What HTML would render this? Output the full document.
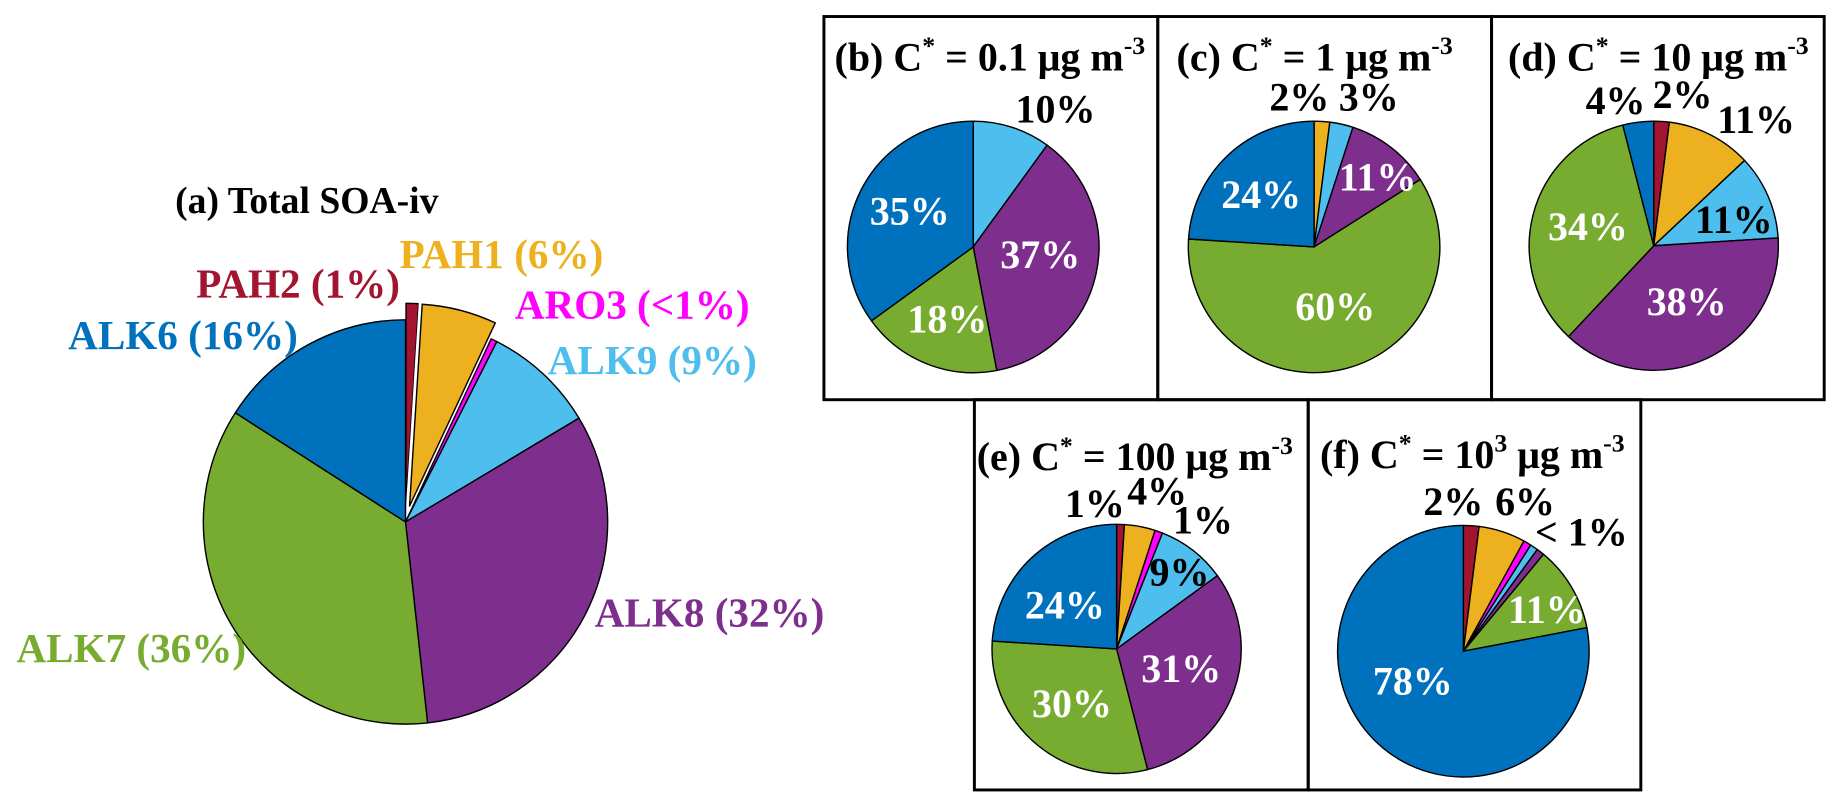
<!DOCTYPE html>
<html><head><meta charset="utf-8"><style>
html,body{margin:0;padding:0;background:#fff;}
svg{display:block;font-family:"Liberation Serif",serif;font-weight:bold;}
</style></head><body>
<svg id="chart" width="1843" height="810" viewBox="0 0 1568 689" xmlns="http://www.w3.org/2000/svg">
<g id="boxes"></g>
<g id="pies"></g>
<g id="labels"></g>
</svg>
<script>
const COLORS = {PAH2:'#a2142f',PAH1:'#edb120',ARO3:'#ff00ff',ALK9:'#4dbeee',ALK8:'#7e2f8e',ALK7:'#77ac30',ALK6:'#0072bd'};
const catsA = ['PAH2','PAH1','ARO3','ALK9','ALK8','ALK7','ALK6'];
const valsA = [1,6,0.5,9,32,36,16];
const explodeA = [1,1,0,0,0,0,0];
const catsB = ['ALK9','ALK8','ALK7','ALK6'];
const valsB = [10,37,18,35];
const catsC = ['PAH1','ALK9','ALK8','ALK7','ALK6'];
const valsC = [2,3,11,60,24];
const catsD = ['PAH2','PAH1','ALK9','ALK8','ALK7','ALK6'];
const valsD = [2,11,11,38,34,4];
const catsE = ['PAH2','PAH1','ARO3','ALK9','ALK8','ALK7','ALK6'];
const valsE = [1,4,1,9,31,30,24];
const catsF = ['PAH2','PAH1','ARO3','ALK9','ALK8','ALK7','ALK6'];
const valsF = [2,6,1,1,1,11,78];

const NS='http://www.w3.org/2000/svg';
function mk(tag,attrs,parent){const e=document.createElementNS(NS,tag);for(const k in attrs)e.setAttribute(k,attrs[k]);parent.appendChild(e);return e;}
function pt(cx,cy,r,f){const a=f*2*Math.PI;return [cx+r*Math.sin(a),cy-r*Math.cos(a)];}
function pie(name,cx,cy,r,cats,vals,explode){
  const g=document.getElementById('pies');
  const total=vals.reduce((a,b)=>a+b,0);
  let acc=0;
  cats.forEach((c,i)=>{
    const f0=acc/total, f1=(acc+vals[i])/total; acc+=vals[i];
    let ox=0,oy=0;
    if(explode&&explode[i]){const m=pt(0,0,14,(f0+f1)/2);ox=m[0];oy=m[1];}
    const p0=pt(cx+ox,cy+oy,r,f0),p1=pt(cx+ox,cy+oy,r,f1);
    const large=(f1-f0)>0.5?1:0;
    const d=`M${cx+ox},${cy+oy} L${p0[0]},${p0[1]} A${r},${r} 0 ${large} 1 ${p1[0]},${p1[1]} Z`;
    if(explode&&explode[i]){
      const w=mk('path',{d:d,fill:'none',stroke:'#fff','stroke-width':6},g);
      
      
    }
    const s=mk('path',{d:d,fill:COLORS[c],stroke:'#000','stroke-width':1.2,'stroke-linejoin':'round'},g);
    
    
  });
}
pie('pie-a',345,444,172,catsA,valsA,explodeA);
pie('pie-b',828,210,107,catsB,valsB);
pie('pie-c',1118,210,107,catsC,valsC);
pie('pie-d',1407,209,106,catsD,valsD);
pie('pie-e',950,552,106,catsE,valsE);
pie('pie-f',1245,554,107,catsF,valsF);

const bx=document.getElementById('boxes');
[[701,14,284,326,'b'],[985,14,284,326,'c'],[1269,14,283,326,'d'],[829,340,284,332,'e'],[1113,340,283,332,'f']].forEach(b=>{
  const r=mk('rect',{x:b[0],y:b[1],width:b[2],height:b[3],fill:'none',stroke:'#000','stroke-width':2.5},bx);
  
  
});
</script>
<script>
(function(){
const L=document.getElementById('labels');
function t(x,y,txt,fill,size,name){
  const e=document.createElementNS('http://www.w3.org/2000/svg','text');
  e.setAttribute('x',x);e.setAttribute('y',y);e.setAttribute('fill',fill);e.setAttribute('font-size',size);
  e.textContent=txt;
  
  
  L.appendChild(e);return e;
}
function title(x,y,html,name){
  const e=document.createElementNS('http://www.w3.org/2000/svg','text');
  e.setAttribute('x',x);e.setAttribute('y',y);e.setAttribute('font-size',34);
  e.innerHTML=html;
  
  
  L.appendChild(e);
}
const S='<tspan dy="-14" font-size="22">', E='</tspan><tspan dy="14">';
t(149,181,'(a) Total SOA-iv','#000',32,'title-a');
t(167,253,'PAH2 (1%)','#a2142f',35,'label-pah2');
t(340,228,'PAH1 (6%)','#edb120',35,'label-pah1');
t(438,271,'ARO3 (<1%)','#ff00ff',35,'label-aro3');
t(58,297,'ALK6 (16%)','#0072bd',35,'label-alk6');
t(466,318,'ALK9 (9%)','#4dbeee',35,'label-alk9');
t(506,533,'ALK8 (32%)','#7e2f8e',35,'label-alk8');
t(14,563,'ALK7 (36%)','#77ac30',35,'label-alk7');

title(710,60,'(b) C'+S+'*'+E+' = 0.1 μg m</tspan>'+S+'-3</tspan>','title-b');
title(1001,60,'(c) C'+S+'*'+E+' = 1 μg m</tspan>'+S+'-3</tspan>','title-c');
title(1283,60,'(d) C'+S+'*'+E+' = 10 μg m</tspan>'+S+'-3</tspan>','title-d');
title(831,400,'(e) C'+S+'*'+E+' = 100 μg m</tspan>'+S+'-3</tspan>','title-e');
title(1123,398,'(f) C'+S+'*'+E+' = 10</tspan>'+S+'3'+E+' μg m</tspan>'+S+'-3</tspan>','title-f');

t(864,104,'10%','#000',34,'b-label-alk9');
t(851,228,'37%','#fff',34,'b-label-alk8');
t(772,283,'18%','#fff',34,'b-label-alk7');
t(740,191,'35%','#fff',34,'b-label-alk6');

t(1080,94,'2%','#000',34,'c-label-pah1');
t(1139,94,'3%','#000',34,'c-label-alk9');
t(1139,162,'11%','#fff',34,'c-label-alk8');
t(1102,272,'60%','#fff',34,'c-label-alk7');
t(1039,177,'24%','#fff',34,'c-label-alk6');

t(1349,97,'4%','#000',34,'d-label-alk6');
t(1406,92,'2%','#000',34,'d-label-pah2');
t(1461,113,'11%','#000',34,'d-label-pah1');
t(1442,198,'11%','#000',34,'d-label-alk9');
t(1401,268,'38%','#fff',34,'d-label-alk8');
t(1317,204,'34%','#fff',34,'d-label-alk7');

t(906,440,'1%','#000',34,'e-label-pah2');
t(959,429,'4%','#000',34,'e-label-pah1');
t(998,454,'1%','#000',34,'e-label-aro3');
t(978,498,'9%','#000',34,'e-label-alk9');
t(872,526,'24%','#fff',34,'e-label-alk6');
t(878,610,'30%','#fff',34,'e-label-alk7');
t(971,580,'31%','#fff',34,'e-label-alk8');

t(1211,438,'2%','#000',34,'f-label-pah2');
t(1272,438,'6%','#000',34,'f-label-pah1');
t(1306,464,'< 1%','#000',34,'f-label-small');
t(1283,530,'11%','#fff',34,'f-label-alk7');
t(1168,591,'78%','#fff',34,'f-label-alk6');
})();
</script>
</body></html>
